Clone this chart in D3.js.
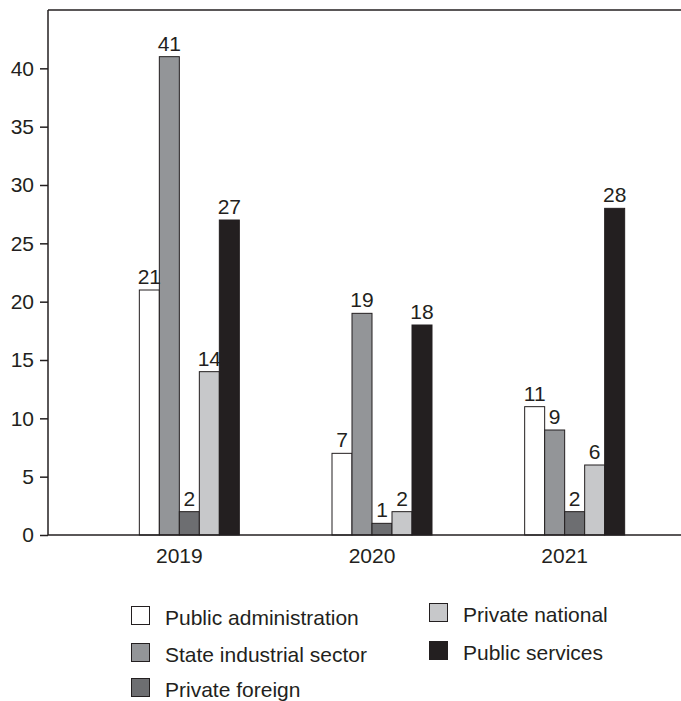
<!DOCTYPE html>
<html>
<head>
<meta charset="utf-8">
<script src="https://cdn.jsdelivr.net/npm/d3@7"></script>
<style>
  html, body { margin: 0; padding: 0; background: #fff; }
  svg { display: block; }
  text { font-family: "Liberation Sans", Arial, Helvetica, sans-serif; fill: #231f20; }
</style>
</head>
<body>
<svg id="chart" width="681" height="701"></svg>
<script>
// Years on the x axis
const years = ["2019", "2020", "2021"];

// Sectors, drawn left to right inside each year group
const sectors = [
  "Public administration",
  "State industrial sector",
  "Private foreign",
  "Private national",
  "Public services"
];

// Values per sector, one entry per year
const publicAdministration = [21, 7, 11];
const stateIndustrial = [41, 19, 9];
const privateForeign = [2, 1, 2];
const privateNational = [14, 2, 6];
const publicServices = [27, 18, 28];

const yTicks = [0, 5, 10, 15, 20, 25, 30, 35, 40];

const sectorColors = ["#ffffff", "#939598", "#6d6e71", "#c7c8ca", "#231f20"];

const seriesValues = [publicAdministration, stateIndustrial, privateForeign, privateNational, publicServices];

const rows = years.map((year, i) => ({
  year,
  values: sectors.map((s, k) => ({ sector: s, value: seriesValues[k][i], idx: k }))
}));

const svg = d3.select("#chart");
const ink = "#231f20";
const fontFamily = "'Liberation Sans', Arial, sans-serif";

const plotLeft = 48, plotRight = 681, plotTop = 10, plotBottom = 535;

const y = d3.scaleLinear().domain([0, 45]).range([plotBottom, plotTop]);

// Category band: each year's label sits at the band centre
const x = d3.scaleBand().domain(years).range([83, 661]).padding(0);

// Bars within a group, offset from the band centre
const inner = d3.scaleBand().domain(sectors).range([-40, 60]).padding(0);

const color = d3.scaleOrdinal().domain(sectors).range(sectorColors);

// Frame: top rule
svg.append("line")
  .attr("x1", plotLeft).attr("x2", plotRight).attr("y1", plotTop).attr("y2", plotTop)
  .attr("stroke", ink).attr("stroke-width", 1.5);

// Y axis
const yAxis = svg.append("g")
  .attr("transform", `translate(${plotLeft},0)`)
  .call(d3.axisLeft(y).tickValues(yTicks).tickSize(8).tickPadding(6).tickSizeOuter(0));
yAxis.select(".domain").attr("stroke", ink).attr("stroke-width", 1.5)
  .attr("d", `M0,${plotTop}V${plotBottom}`);
yAxis.selectAll(".tick line").attr("stroke", ink).attr("stroke-width", 1.5);
yAxis.selectAll(".tick text")
  .attr("fill", ink)
  .style("font-size", "21px")
  .style("font-family", fontFamily);

// Bars
const groups = svg.append("g").selectAll("g")
  .data(rows)
  .join("g")
  .attr("transform", d => `translate(${x(d.year) + x.bandwidth() / 2},0)`);

groups.selectAll("rect")
  .data(d => d.values)
  .join("rect")
  .attr("x", d => inner(d.sector))
  .attr("y", d => y(d.value))
  .attr("width", inner.bandwidth())
  .attr("height", d => y(0) - y(d.value))
  .attr("fill", d => color(d.sector))
  .attr("stroke", ink)
  .attr("stroke-width", 1);

// Value labels above bars
groups.selectAll("text.val")
  .data(d => d.values)
  .join("text")
  .attr("class", "val")
  .attr("x", d => inner(d.sector) + inner.bandwidth() / 2)
  .attr("y", d => y(d.value) - 6)
  .attr("text-anchor", "middle")
  .style("font-size", "21px")
  .text(d => d.value);

// X axis baseline and year labels
const xAxis = svg.append("g")
  .attr("transform", `translate(0,${plotBottom})`)
  .call(d3.axisBottom(x).tickSize(0).tickPadding(13));
xAxis.select(".domain").attr("stroke", ink).attr("stroke-width", 1.5)
  .attr("d", `M${plotLeft},0H${plotRight}`);
xAxis.selectAll(".tick text")
  .attr("fill", ink)
  .attr("dy", "0.71em")
  .style("font-size", "21px")
  .style("font-family", fontFamily);

// Legend: two columns
const legendItems = [
  { sector: sectors[0], x: 131, y: 625 },
  { sector: sectors[1], x: 131, y: 662 },
  { sector: sectors[2], x: 131, y: 697 },
  { sector: sectors[3], x: 429, y: 622 },
  { sector: sectors[4], x: 429, y: 660 }
];

const legend = svg.append("g").selectAll("g")
  .data(legendItems)
  .join("g")
  .attr("transform", d => `translate(${d.x},${d.y})`);

legend.append("rect")
  .attr("x", 0.5).attr("y", -18.5)
  .attr("width", 18).attr("height", 18)
  .attr("fill", d => color(d.sector))
  .attr("stroke", ink).attr("stroke-width", 1);

legend.append("text")
  .attr("x", 34).attr("y", 0)
  .style("font-size", "21px")
  .text(d => d.sector);
</script>
</body>
</html>
